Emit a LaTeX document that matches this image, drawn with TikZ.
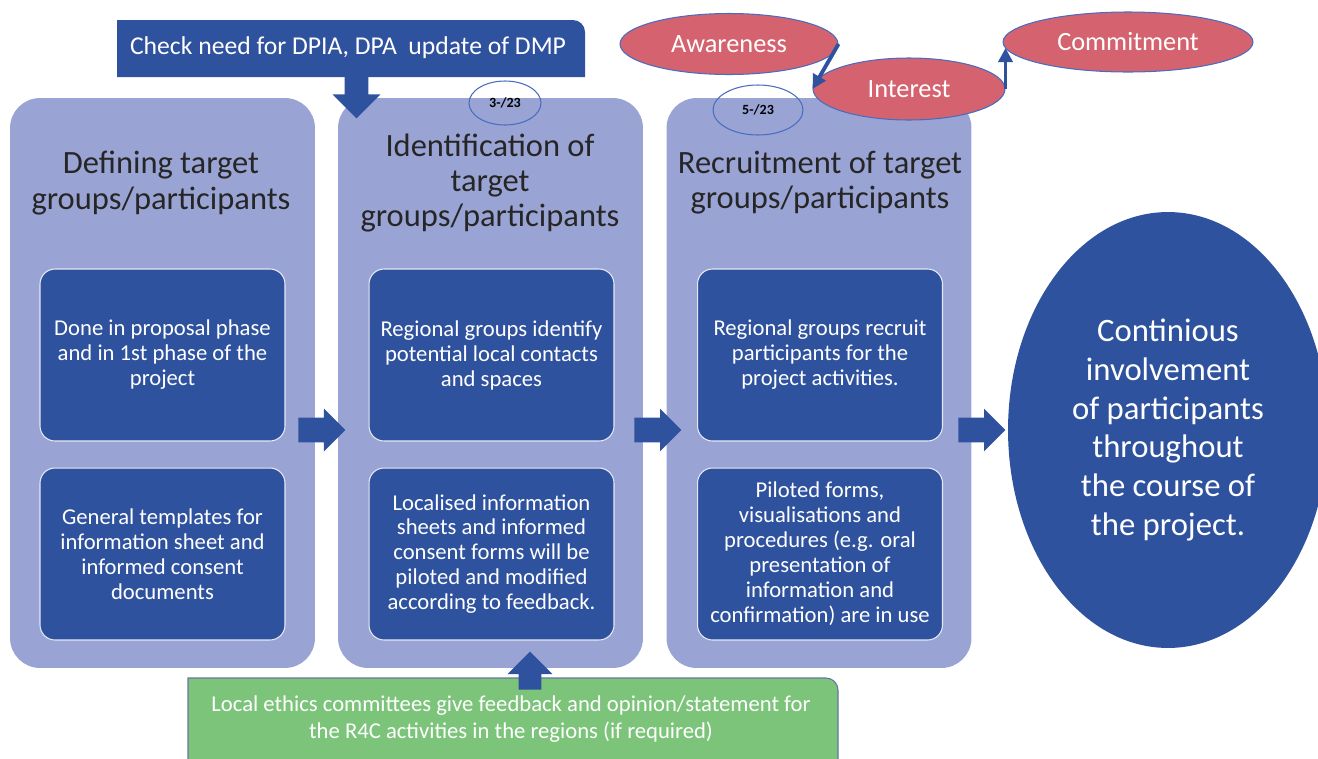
\documentclass[tikz,border=0pt]{standalone}
\usepackage{fontspec}
\setmainfont{Carlito}
\usetikzlibrary{shapes.geometric,shapes.arrows,arrows.meta}

\definecolor{panelblue}{HTML}{9AA4D4}
\definecolor{darkblue}{HTML}{2F529E}
\definecolor{rosered}{HTML}{D4636F}
\definecolor{ethicsgreen}{HTML}{7CC47A}
\definecolor{rimblue}{HTML}{4A6CC0}

\tikzset{
	panel/.style={fill=panelblue, rounded corners=0.6cm, minimum width=6.1cm, minimum height=11.4cm},
	phasetitle/.style={align=center, text=black!85, font=\fontsize{18.5}{20}\selectfont},
	taskbox/.style={fill=darkblue, draw=white!75!panelblue, line width=0.6pt, rounded corners=0.3cm,
		minimum width=4.9cm, minimum height=3.44cm, text=white, align=center, font=\fontsize{12.9}{14.2}\selectfont},
	blockarrow/.style={single arrow, fill=darkblue, inner xsep=0pt, inner ysep=0.24cm, single arrow head extend=0.18cm,
		minimum height=0.94cm, anchor=tail},
	stage/.style={ellipse, fill=rosered, draw=rimblue, line width=0.6pt, text=white, inner sep=0pt,
		font=\fontsize{15}{18}\selectfont},
	datemark/.style={ellipse, draw=rimblue, line width=0.6pt, inner sep=0pt, font=\bfseries\fontsize{8}{9}\selectfont},
	stagearrow/.style={-{Triangle[length=8pt,width=8pt]}, draw=darkblue, line width=2.2pt},
}

\begin{document}
\begin{tikzpicture}[x=0.02cm, y=-0.02cm]
	%%%%% START %%%%%
	\useasboundingbox (0,0) rectangle (1318,758);
	\clip (0,0) rectangle (1318,758);
	
	% the three phases
	\node[panel] (p1) at (162.5,383) {};
	\node[panel] (p2) at (490.5,383) {};
	\node[panel] (p3) at (819,383) {};
	
	\node[phasetitle] (title1) at (161,183) {Defining target\\groups/participants};
	\node[phasetitle] (title2) at (490,183) {Identification of\\target\\groups/participants};
	\node[phasetitle] (title3) at (820,183) {Recruitment of target\\groups/participants};
	
	\node[taskbox] (t1a) at (162.5,355) {Done in proposal phase\\and in 1st phase of the\\project};
	\node[taskbox] (t1b) at (162.5,554) {General templates for\\information sheet and\\informed consent\\documents};
	
	\node[taskbox] (t2a) at (491.5,355) {Regional groups identify\\potential local contacts\\and spaces};
	\node[taskbox] (t2b) at (491.5,554) {Localised information\\sheets and informed\\consent forms will be\\piloted and modified\\according to feedback.};
	
	\node[taskbox] (t3a) at (820,355) {Regional groups recruit\\participants for the\\project activities.};
	\node[taskbox] (t3b) at (820,554) {Piloted forms,\\visualisations and\\procedures (e.g. oral\\presentation of\\information and\\confirmation) are in use};
	
	% outcome
	\node[ellipse, fill=darkblue, minimum width=6.4cm, minimum height=8.72cm, inner sep=0pt, text=white, align=center,
		font=\fontsize{18.6}{22}\selectfont] (cont) at (1168,430) {Continious\\involvement\\of participants\\throughout\\the course of\\the project.};
	
	% flow between the phases
	\node[blockarrow] (a12) at (298,430) {};
	\node[blockarrow] (a23) at (634,430) {};
	\node[blockarrow] (a3c) at (958,430) {};
	
	% dates
	\node[datemark, minimum width=1.44cm, minimum height=0.88cm] (d2) at (505,103) {3-/23};
	\node[datemark, minimum width=1.8cm, minimum height=1cm] (d3) at (758,110) {5-/23};
	
	% awareness -> interest -> commitment
	\node[stage, minimum width=4.36cm, minimum height=1.22cm] (aware) at (729,44) {Awareness};
	\node[stage, minimum width=3.84cm, minimum height=1.24cm] (inter) at (909,89) {Interest};
	\node[stage, minimum width=5cm, minimum height=1.2cm] (commit) at (1128,42) {Commitment};
	
	\draw[stagearrow] (aware.east) -- (inter.west);
	\draw[stagearrow] (inter.east) -- ([yshift=-0.12cm]inter.east |- commit.west);
	
	% DPIA check on top
	\fill[darkblue] (117,77) -- (117,20) -- (573,20) arc[start angle=90, end angle=0, radius=0.24cm] -- (585,77) -- cycle;
	\node[text=white, font=\fontsize{14.6}{17}\selectfont] (dpia) at (348,48) {Check need for DPIA, DPA\ \ update of DMP};
	\node[blockarrow, rotate=-90, inner ysep=0.23cm, minimum height=0.92cm, single arrow head extend=0.24cm] (adpia) at (356.5,72) {};
	
	% ethics committees at the bottom
	\filldraw[fill=ethicsgreen, draw=rimblue!50!gray, line width=0.6pt] (188,800) -- (188,678) -- (826,678)
		arc[start angle=90, end angle=0, radius=0.24cm] -- (838,800);
	\node[text=white, align=center, font=\fontsize{12.9}{15}\selectfont] (ethics) at (511,719)
		{Local ethics committees give feedback and opinion/statement for\\the R4C activities in the regions (if required)};
	\node[blockarrow, rotate=90, inner ysep=0.22cm, minimum height=0.76cm, single arrow head extend=0.22cm] (aethics) at (530,690) {};
	
	%%%%% END %%%%%
\end{tikzpicture}
\end{document}
